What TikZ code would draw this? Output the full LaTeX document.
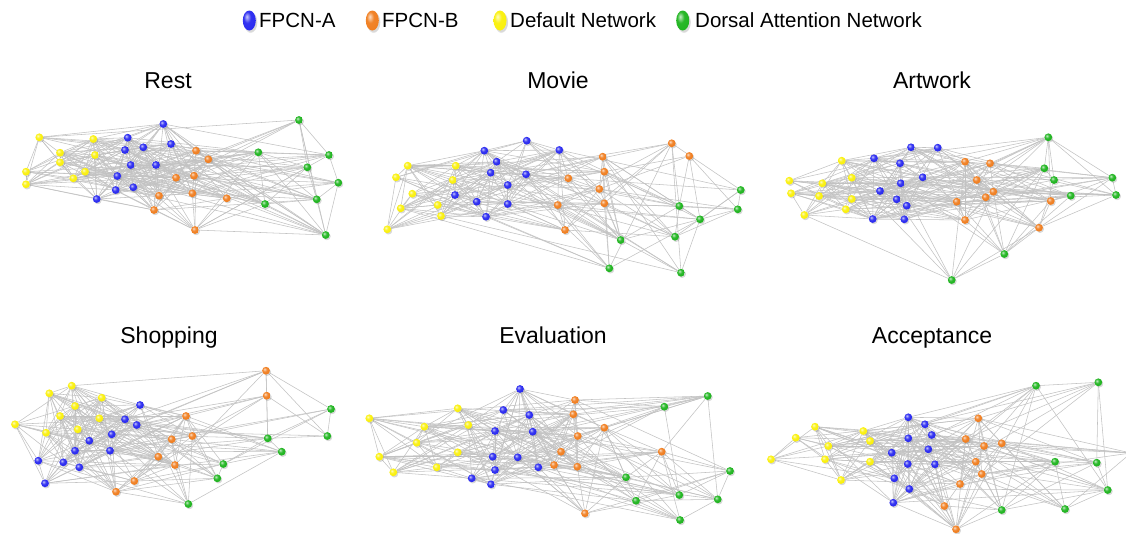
\documentclass[tikz,border=0pt]{standalone}
\usepackage{fontspec}
\setmainfont{Liberation Sans}
\usetikzlibrary{shapes.geometric,backgrounds,shadows}

\definecolor{fpcnA}{RGB}{40,40,240}
\definecolor{fpcnB}{RGB}{240,125,30}
\definecolor{dmn}{RGB}{250,240,10}
\definecolor{dan}{RGB}{30,180,30}
\colorlet{roikleur}{black}

\pgfdeclareradialshading[roikleur]{glans}{\pgfqpoint{-10bp}{10bp}}{%
  color(0bp)=(roikleur!25!white); color(14bp)=(roikleur!95!white);
  color(36bp)=(roikleur); color(50bp)=(roikleur!80!black); color(70bp)=(roikleur!65!black)}

\tikzset{
  roi/.style={circle, inner sep=0pt, minimum size=7.8pt,
    /utils/exec={\colorlet{roikleur}{#1}}, shading=glans,
    circular drop shadow={shadow xshift=0.8pt, shadow yshift=-1pt, opacity=0.3}},
  link/.style={draw=black!24, line width=0.55pt},
  legbal/.style={ellipse, inner sep=0pt, minimum width=13pt, minimum height=20pt,
    /utils/exec={\colorlet{roikleur}{#1}}, shading=glans,
    circular drop shadow={shadow xshift=1pt, shadow yshift=-1.5pt, opacity=0.3}},
  legtekst/.style={font=\fontsize{20.5}{24}\selectfont, anchor=base west, inner sep=0pt},
  titel/.style={font=\fontsize{23}{27}\selectfont, anchor=base, inner sep=0pt}
}

% #1 = prefix, #2 = aantal knopen, #3 = nr/x/y/kleur
\newcommand\hersennet[3]{%
  \foreach \n/\px/\py/\k in {#3} {
    \node[roi=\k] (#1\n) at (\px,\py) {};
    \expandafter\xdef\csname #1x\n\endcsname{\px}%
    \expandafter\xdef\csname #1y\n\endcsname{\py}%
  }
  \begin{pgfonlayer}{background}
  \foreach \i in {1,...,#2} {
    \foreach \j in {\i,...,#2} {
      \ifnum\j>\i
        \edef\xa{\csname #1x\i\endcsname}\edef\ya{\csname #1y\i\endcsname}%
        \edef\xb{\csname #1x\j\endcsname}\edef\yb{\csname #1y\j\endcsname}%
        \pgfmathtruncatemacro\keep{rnd < 0.95*exp(-veclen(\xa-\xb,\ya-\yb)/115)}%
        \ifnum\keep=1 \draw[link] (#1\i) -- (#1\j); \fi
      \fi
    }
  }
  \end{pgfonlayer}
}

\begin{document}
\begin{tikzpicture}[x=1pt, y=-1pt]
  \pgfmathsetseed{11}
  \useasboundingbox (0,0) rectangle (1126,533);

  % legenda
  \node[legbal=fpcnA] (lA) at (249.3,20.5) {};
  \node[legtekst] (tA) at (259,27.3) {FPCN-A};
  \node[legbal=fpcnB] (lB) at (372.3,20.5) {};
  \node[legtekst] (tB) at (382,27.3) {FPCN-B};
  \node[legbal=dmn] (lD) at (500,20.5) {};
  \node[legtekst] (tD) at (510,27.3) {Default Network};
  \node[legbal=dan] (lG) at (682.7,20.5) {};
  \node[legtekst] (tG) at (695,27.3) {Dorsal Attention Network};

  % titels
  \node[titel] (tRest) at (168,88.7) {Rest};
  \node[titel] (tMovie) at (558,88.7) {Movie};
  \node[titel] (tArt) at (932,88.7) {Artwork};
  \node[titel] (tShop) at (169,343.3) {Shopping};
  \node[titel] (tEval) at (553,343.3) {Evaluation};
  \node[titel] (tAcc) at (932,343.3) {Acceptance};

  % Rest
  \hersennet{R}{37}{1/39.3/137.3/dmn, 2/93.3/139/dmn, 3/60/152.7/dmn, 4/60/162.3/dmn,
    5/95/155/dmn, 6/26/171.7/dmn, 7/26/184.3/dmn, 8/85/171.7/dmn, 9/73.3/178.3/dmn,
    10/163.3/124/fpcnA, 11/127.7/137.7/fpcnA, 12/125/150/fpcnA, 13/143.3/147.3/fpcnA,
    14/171/144/fpcnA, 15/130.7/165/fpcnA, 16/156/165/fpcnA, 17/117.3/176/fpcnA,
    18/115.7/190/fpcnA, 19/133.3/187.3/fpcnA, 20/96.7/199/fpcnA,
    21/196/150.7/fpcnB, 22/208.3/159.3/fpcnB, 23/176/177.7/fpcnB, 24/194/175.7/fpcnB,
    25/159/195.7/fpcnB, 26/192.3/193.3/fpcnB, 27/226.7/198.3/fpcnB, 28/154/210/fpcnB,
    29/195/230/fpcnB,
    30/299/120/dan, 31/258.3/152.3/dan, 32/329/155/dan, 33/307.3/167.3/dan,
    34/338.3/182.7/dan, 35/265/204/dan, 36/316.7/199.3/dan, 37/325.7/235/dan}

  % Movie
  \hersennet{M}{37}{1/407.7/165.7/dmn, 2/396/177.3/dmn, 3/455.7/165.7/dmn, 4/452.7/180/dmn,
    5/412.3/193.7/dmn, 6/400.7/208.3/dmn, 7/437.7/205/dmn, 8/441/216/dmn, 9/387.3/229.3/dmn,
    10/526.7/140.7/fpcnA, 11/484.3/150.7/fpcnA, 12/559.3/150/fpcnA, 13/496.7/161.7/fpcnA,
    14/490.7/172.7/fpcnA, 15/526/174.3/fpcnA, 16/507.7/185/fpcnA, 17/455/195/fpcnA,
    18/476.7/201.7/fpcnA, 19/507.7/204/fpcnA, 20/486/216.7/fpcnA,
    21/671.7/143.3/fpcnB, 22/689.3/156/fpcnB, 23/602.7/156.7/fpcnB, 24/604.3/171.7/fpcnB,
    25/568.3/178.3/fpcnB, 26/599.3/189/fpcnB, 27/604.3/203.3/fpcnB, 28/557.7/205/fpcnB,
    29/565/230/fpcnB,
    30/740.7/190/dan, 31/737.7/209.3/dan, 32/679.3/206/dan, 33/700/219.3/dan,
    34/620.7/240/dan, 35/675/236.7/dan, 36/609.3/268.3/dan, 37/681/272.7/dan}

  % Artwork
  \hersennet{A}{37}{1/841.7/160.7/dmn, 2/789.3/180.7/dmn, 3/822.3/183.3/dmn, 4/851.7/177.7/dmn,
    5/791/193.3/dmn, 6/819/196/dmn, 7/851.7/199/dmn, 8/845.7/209.3/dmn, 9/804.3/215/dmn,
    10/911/147.3/fpcnA, 11/937.7/147.7/fpcnA, 12/874/158.3/fpcnA, 13/900/163.3/fpcnA,
    14/922.7/177.3/fpcnA, 15/900.7/183.3/fpcnA, 16/880/191/fpcnA, 17/896.7/199.3/fpcnA,
    18/906.7/205.7/fpcnA, 19/872.7/219/fpcnA, 20/904.3/219.3/fpcnA,
    21/965/161.7/fpcnB, 22/990/163.3/fpcnB, 23/976.7/180/fpcnB, 24/993.3/191.7/fpcnB,
    25/985.7/197.3/fpcnB, 26/956.7/201.7/fpcnB, 27/1050.7/201/fpcnB, 28/965/220/fpcnB,
    29/1039/227.7/fpcnB,
    30/1048.3/137.3/dan, 31/1044.3/168.3/dan, 32/1054/180/dan, 33/1112.3/177.7/dan,
    34/1116/195/dan, 35/1070.7/195.7/dan, 36/1004.3/254/dan, 37/951.7/280/dan}

  % Shopping
  \hersennet{S}{36}{1/71.7/385.7/dmn, 2/49.3/393.3/dmn, 3/101.7/397.7/dmn, 4/75/406/dmn,
    5/60/416/dmn, 6/99.3/418.3/dmn, 7/15/424.3/dmn, 8/46/432.7/dmn, 9/77.7/429.3/dmn,
    10/140/405/fpcnA, 11/125/419.3/fpcnA, 12/136.7/425/fpcnA, 13/111.7/434.3/fpcnA,
    14/89.3/440.7/fpcnA, 15/75/450.7/fpcnA, 16/110/450.7/fpcnA, 17/38.3/460.7/fpcnA,
    18/63.3/462.3/fpcnA, 19/79.3/467.3/fpcnA, 20/45/483.3/fpcnA,
    21/266/370.7/fpcnB, 22/266.7/395.7/fpcnB, 23/186/416/fpcnB, 24/171.7/439.3/fpcnB,
    25/192.3/436/fpcnB, 26/158.3/456.7/fpcnB, 27/175/465/fpcnB, 28/134.3/481/fpcnB,
    29/116/491.7/fpcnB,
    30/331/409/dan, 31/267.7/438.3/dan, 32/327.3/436/dan, 33/281.7/451.7/dan,
    34/223.3/464/dan, 35/217.3/478.3/dan, 36/188.3/504/dan}

  % Evaluation
  \hersennet{E}{37}{1/369.3/418.3/dmn, 2/457.7/408.3/dmn, 3/424.3/426.7/dmn, 4/468.3/425/dmn,
    5/416.7/442.7/dmn, 6/457.7/452.3/dmn, 7/379.3/456.7/dmn, 8/436.7/467.3/dmn, 9/393.3/472.3/dmn,
    10/520/389/fpcnA, 11/503.3/410/fpcnA, 12/529.3/415/fpcnA, 13/495/431/fpcnA,
    14/532.7/431.7/fpcnA, 15/492.7/456.7/fpcnA, 16/517.7/457.3/fpcnA, 17/538.3/467.3/fpcnA,
    18/495/470/fpcnA, 19/471.7/478.3/fpcnA, 20/491/484.3/fpcnA,
    21/575/400/fpcnB, 22/573.3/414.3/fpcnB, 23/604.3/427.7/fpcnB, 24/577.7/436/fpcnB,
    25/561/451.7/fpcnB, 26/661.7/451.7/fpcnB, 27/554/465/fpcnB, 28/577.3/466.7/fpcnB,
    29/585/513.3/fpcnB,
    30/707.7/396/dan, 31/664.3/406.7/dan, 32/730/471/dan, 33/626/477.3/dan,
    34/679.3/495/dan, 35/636/500.7/dan, 36/717.7/499.3/dan, 37/680/520/dan}

  % Acceptance
  \hersennet{C}{37}{1/815/426.7/dmn, 2/795.7/437.7/dmn, 3/863.3/431/dmn, 4/870/441/dmn,
    5/828.3/446/dmn, 6/771/459.3/dmn, 7/825/459.3/dmn, 8/870/461.7/dmn, 9/841/480/dmn,
    10/908.3/417.3/fpcnA, 11/925/424.3/fpcnA, 12/931.7/435/fpcnA, 13/908.3/438.3/fpcnA,
    14/928.3/449.3/fpcnA, 15/891.7/452.7/fpcnA, 16/907.7/464/fpcnA, 17/935/464.3/fpcnA,
    18/894.3/478.3/fpcnA, 19/909.3/489/fpcnA, 20/893.3/502.7/fpcnA,
    21/978.3/418.3/fpcnB, 22/965.7/439/fpcnB, 23/984/446/fpcnB, 24/1001.7/443.3/fpcnB,
    25/975.7/461.7/fpcnB, 26/981.7/474/fpcnB, 27/960/484/fpcnB, 28/944.3/506/fpcnB,
    29/956/529.3/fpcnB,
    30/1036/385.7/dan, 31/1098.3/382.3/dan, 32/1055/461.7/dan, 33/1096.7/462.7/dan,
    34/1107.7/490/dan, 35/1001.7/510/dan, 36/1065/509/dan, 37/1131/453/dan}

\end{tikzpicture}
\end{document}
